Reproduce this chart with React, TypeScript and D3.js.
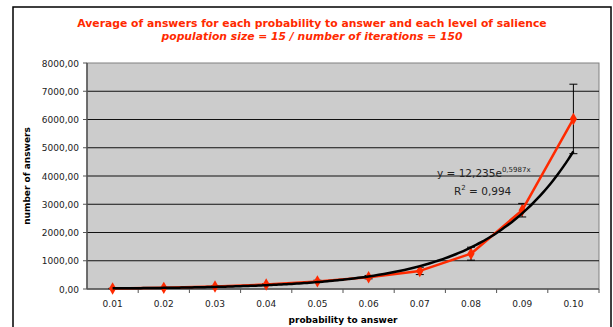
import React from "react";
import * as d3 from "d3";

const width = 613;
const height = 327;
const margin = { top: 63, right: 14, bottom: 38, left: 87 };

const categories = ["0.01", "0.02", "0.03", "0.04", "0.05", "0.06", "0.07", "0.08", "0.09", "0.10"];
const averages = [15, 40, 85, 160, 270, 420, 640, 1250, 2790, 6020];
const errors = [10, 15, 20, 30, 40, 60, 130, 230, 240, 1230];
const yTicks = [0, 1000, 2000, 3000, 4000, 5000, 6000, 7000, 8000];
// exponential trendline coefficients, as printed on the chart
const trendA = 12.235;
const trendB = 0.5987;

const red = "#ff2a00";
const font = "'DejaVu Sans', Verdana, sans-serif";

export default function App() {
  const plotRight = 599;
  const plotBottom = height - margin.bottom;

  const xScale = d3
    .scaleBand()
    .domain(categories)
    .range([margin.left, plotRight]);

  const yScale = d3
    .scaleLinear()
    .domain([0, 8000])
    .range([plotBottom, margin.top]);

  const cx = (i: number) => xScale(categories[i])! + xScale.bandwidth() / 2;

  const dataLine = d3
    .line<number>()
    .x((d, i) => cx(i))
    .y((d) => yScale(d));

  // trendline, x is the point index 1..10
  const trendX = d3.range(1, 10.001, 0.1);
  const trendLine = d3
    .line<number>()
    .x((t) => cx(0) + (t - 1) * xScale.bandwidth())
    .y((t) => yScale(trendA * Math.exp(trendB * t)))
    .curve(d3.curveMonotoneX);

  const fmt = (v: number) => d3.format(".2f")(v).replace(".", ",");

  return (
    <svg width={width} height={height} style={{ position: "absolute", left: 0, top: 0 }}>
      <rect x={0} y={0} width={width} height={height} fill="#fff" />
      <rect x={13} y={7} width={598} height={340} fill="#fff" stroke="#000" strokeWidth={1.5} />

      <text x={312} y={27} textAnchor="middle" fill={red} fontFamily={font} fontWeight="bold" fontSize={10.8}>
        Average of answers for each probability to answer and each level of salience
      </text>
      <text x={312} y={40} textAnchor="middle" fill={red} fontFamily={font} fontWeight="bold" fontStyle="italic" fontSize={10.8}>
        population size = 15 / number of iterations = 150
      </text>

      <rect
        x={margin.left}
        y={margin.top}
        width={plotRight - margin.left}
        height={plotBottom - margin.top}
        fill="#cccccc"
        stroke="#808080"
        strokeWidth={1}
      />
      {yTicks.slice(1, -1).map((t) => (
        <line key={t} x1={margin.left} x2={plotRight} y1={yScale(t)} y2={yScale(t)} stroke="#111" strokeWidth={1} />
      ))}

      {/* y axis */}
      <line x1={margin.left} x2={margin.left} y1={margin.top} y2={plotBottom} stroke="#555" strokeWidth={1.5} />
      {yTicks.map((t) => (
        <g key={t}>
          <line x1={margin.left - 4} x2={margin.left} y1={yScale(t)} y2={yScale(t)} stroke="#555" />
          <text x={79} y={yScale(t) + 3.5} textAnchor="end" fontFamily={font} fontSize={9} fill="#222">
            {fmt(t)}
          </text>
        </g>
      ))}
      <text
        transform={`translate(30,${(margin.top + plotBottom) / 2}) rotate(-90)`}
        textAnchor="middle"
        fontFamily={font}
        fontWeight="bold"
        fontSize={9}
        fill="#000"
      >
        number of answers
      </text>

      {/* x axis */}
      <line x1={margin.left} x2={plotRight} y1={plotBottom} y2={plotBottom} stroke="#555" strokeWidth={1.5} />
      {categories.map((c, i) => (
        <g key={c}>
          <line
            x1={xScale(c)! + xScale.bandwidth()}
            x2={xScale(c)! + xScale.bandwidth()}
            y1={plotBottom}
            y2={plotBottom + 4}
            stroke="#555"
          />
          <text x={cx(i)} y={307} textAnchor="middle" fontFamily={font} fontSize={9} fill="#222">
            {c}
          </text>
        </g>
      ))}
      <text x={343} y={323} textAnchor="middle" fontFamily={font} fontWeight="bold" fontSize={9} fill="#000">
        probability to answer
      </text>

      {/* error bars */}
      {averages.map((v, i) => (
        <g key={i} stroke="#000" strokeWidth={1}>
          <line x1={cx(i)} x2={cx(i)} y1={yScale(v + errors[i])} y2={yScale(v - errors[i])} />
          <line x1={cx(i) - 4} x2={cx(i) + 4} y1={yScale(v + errors[i])} y2={yScale(v + errors[i])} />
          <line x1={cx(i) - 4} x2={cx(i) + 4} y1={yScale(v - errors[i])} y2={yScale(v - errors[i])} />
        </g>
      ))}

      <path d={dataLine(averages)!} fill="none" stroke={red} strokeWidth={2.5} strokeLinejoin="round" />
      {averages.map((v, i) => (
        <path
          key={i}
          d={d3.symbol(d3.symbolDiamond, 45)()!}
          transform={`translate(${cx(i)},${yScale(v)})`}
          fill={red}
        />
      ))}
      <path d={trendLine(trendX)!} fill="none" stroke="#000" strokeWidth={2.5} />

      <text x={437} y={177} fontFamily={font} fontSize={10.5} fill="#222">
        y = 12,235e
        <tspan dy={-5} fontSize={7}>0,5987x</tspan>
      </text>
      <text x={454} y={195} fontFamily={font} fontSize={10.5} fill="#222">
        R<tspan dy={-5} fontSize={7}>2</tspan>
        <tspan dy={5}> = 0,994</tspan>
      </text>
    </svg>
  );
}
